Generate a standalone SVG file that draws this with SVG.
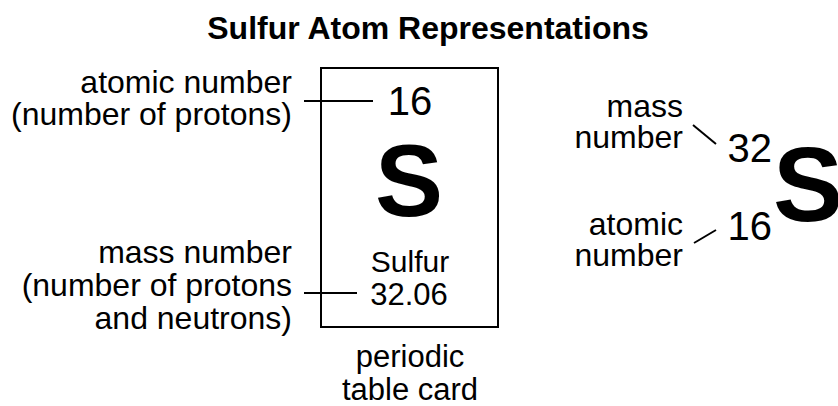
<svg xmlns="http://www.w3.org/2000/svg" width="838" height="406" viewBox="0 0 838 406">
<style>
text{font-family:"Liberation Sans",Arial,sans-serif;fill:#000}
.lbl{font-size:32px}
.end{text-anchor:end}
.mid{text-anchor:middle}
.num{font-size:40px}
.big{font-size:102px;font-weight:bold}
.ln{stroke:#000;stroke-width:2;fill:none}
</style>
<rect width="838" height="406" fill="#fff"/>
<text id="title" x="428" y="39" class="mid" style="font-size:32px;font-weight:bold">Sulfur Atom Representations</text>
<g id="card">
<rect x="321" y="68" width="177" height="259" class="ln"/>
<text x="410" y="115" class="mid num">16</text>
<text x="409" y="216" class="mid big">S</text>
<text x="410" y="272" class="mid" style="font-size:30px">Sulfur</text>
<text x="409" y="305" class="mid" style="font-size:31px">32.06</text>
</g>
<g id="card-label">
<text x="410" y="367" class="mid" style="font-size:31px">periodic</text>
<text x="410" y="400" class="mid" style="font-size:31px">table card</text>
</g>
<g id="atomic-label">
<text x="292" y="93" class="end lbl">atomic number</text>
<text x="292" y="125" class="end lbl">(number of protons)</text>
</g>
<g id="mass-label">
<text x="292" y="263" class="end lbl">mass number</text>
<text x="292" y="296" class="end lbl">(number of protons</text>
<text x="292" y="329" class="end lbl">and neutrons)</text>
</g>
<g id="notation">
<text x="772" y="162" class="end num">32</text>
<text x="772" y="240" class="end num">16</text>
<text x="773" y="221" style="font-size:105px;font-weight:bold">S</text>
</g>
<g id="notation-mass-label">
<text x="683" y="117" class="end lbl">mass</text>
<text x="683" y="148" class="end lbl">number</text>
</g>
<g id="notation-atomic-label">
<text x="683" y="235" class="end lbl">atomic</text>
<text x="683" y="266" class="end lbl">number</text>
</g>
<g id="connectors">
<line x1="304" y1="101" x2="373" y2="101" class="ln"/>
<line x1="304" y1="293" x2="357" y2="293" class="ln"/>
<line x1="693" y1="125" x2="716" y2="144" class="ln"/>
<line x1="694" y1="243" x2="716" y2="230" class="ln"/>
</g>
</svg>
